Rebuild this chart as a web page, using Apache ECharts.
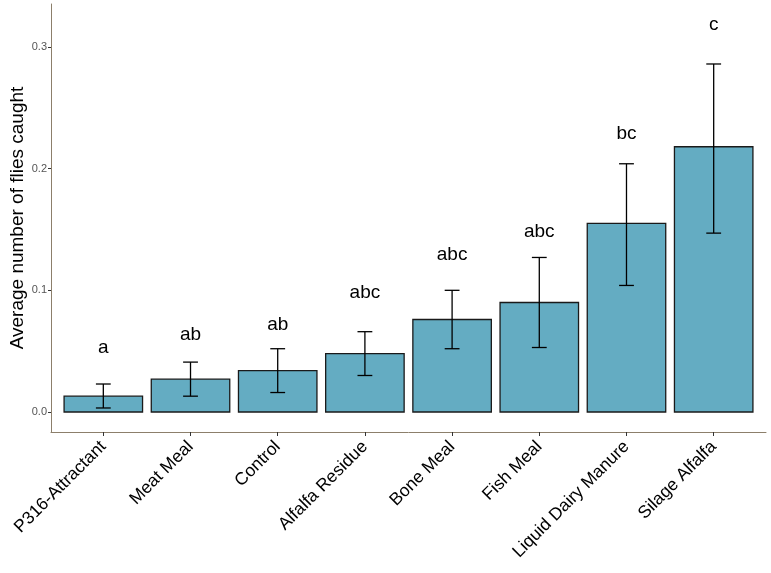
<!DOCTYPE html>
<html>
<head>
<meta charset="utf-8">
<script src="https://cdn.jsdelivr.net/npm/echarts@6/dist/echarts.min.js"></script>
<style>html,body{margin:0;padding:0;background:#fff;}#main{width:771px;height:573px;}</style>
</head>
<body>
<div id="main"></div>
<script>
const categories = ['P316-Attractant','Meat Meal','Control','Alfalfa Residue','Bone Meal','Fish Meal','Liquid Dairy Manure','Silage Alfalfa'];
const means = [0.013, 0.027, 0.034, 0.048, 0.076, 0.090, 0.155, 0.218];
const lowerCI = [0.0033, 0.013, 0.016, 0.030, 0.052, 0.053, 0.104, 0.147];
const upperCI = [0.023, 0.041, 0.052, 0.066, 0.100, 0.127, 0.204, 0.286];
const letters = ['a','ab','ab','abc','abc','abc','bc','c'];
const letterY = [0.0526, 0.0633, 0.0715, 0.0978, 0.129, 0.148, 0.229, 0.318];
const yTicks = [0, 0.1, 0.2, 0.3];

const xPos = categories.map((c, i) => i + 1);
const FONT = '"Liberation Sans", Arial, sans-serif';
const axisColor = '#8c7f6b';

const chart = echarts.init(document.getElementById('main'), null, {renderer: 'canvas'});
chart.setOption({
  backgroundColor: '#fff',
  animation: false,
  grid: {left: 51, right: 5, top: 4, bottom: 141, containLabel: false, outerBoundsMode: 'none'},
  xAxis: {
    type: 'value', min: 0.4, max: 8.6,
    splitLine: {show: false},
    axisLine: {show: true, onZero: false, lineStyle: {color: axisColor, width: 1}},
    axisTick: {show: true, customValues: xPos, length: 4, lineStyle: {color: '#333'}},
    axisLabel: {
      customValues: xPos, rotate: 45, fontSize: 17.5, color: '#000', fontFamily: FONT, margin: 12,
      formatter: v => categories[Math.round(v) - 1]
    }
  },
  yAxis: {
    type: 'value', min: -0.01644, max: 0.3353,
    splitLine: {show: false},
    axisLine: {show: true, onZero: false, lineStyle: {color: axisColor, width: 1}},
    axisTick: {show: true, customValues: yTicks, length: 3, lineStyle: {color: '#333'}},
    axisLabel: {customValues: yTicks, fontSize: 11, color: '#555', fontFamily: FONT, margin: 4,
      formatter: v => v.toFixed(1)},
    name: 'Average number of flies caught', nameLocation: 'middle', nameGap: 24, nameMoveOverlap: false,
    nameTextStyle: {fontSize: 19, color: '#000', fontFamily: FONT}
  },
  series: [
    {
      type: 'custom',
      data: xPos.map((x, i) => [x, means[i]]),
      renderItem: (params, api) => {
        const x = api.value(0), y = api.value(1);
        const p0 = api.coord([x - 0.45, y]);
        const p1 = api.coord([x + 0.45, 0]);
        return {type: 'rect', shape: {x: p0[0], y: p0[1], width: p1[0] - p0[0], height: p1[1] - p0[1]},
          style: {fill: '#64acc2', stroke: '#1a1a1a', lineWidth: 1.3}};
      }
    },
    {
      type: 'custom',
      data: xPos.map((x, i) => [x, lowerCI[i], upperCI[i]]),
      renderItem: (params, api) => {
        const x = api.value(0);
        const lo = api.coord([x, api.value(1)]);
        const hi = api.coord([x, api.value(2)]);
        const half = api.size([0.085, 0])[0];
        const st = {stroke: '#000', lineWidth: 1.3};
        return {type: 'group', children: [
          {type: 'line', shape: {x1: lo[0], y1: lo[1], x2: hi[0], y2: hi[1]}, style: st},
          {type: 'line', shape: {x1: lo[0] - half, y1: lo[1], x2: lo[0] + half, y2: lo[1]}, style: st},
          {type: 'line', shape: {x1: hi[0] - half, y1: hi[1], x2: hi[0] + half, y2: hi[1]}, style: st}
        ]};
      }
    },
    {
      type: 'custom',
      data: xPos.map((x, i) => [x, letterY[i], i]),
      renderItem: (params, api) => {
        const p = api.coord([api.value(0), api.value(1)]);
        return {type: 'text', style: {text: letters[api.value(2)], x: p[0], y: p[1], align: 'center', verticalAlign: 'middle',
          fontSize: 19, fontFamily: FONT, fill: '#000'}};
      }
    }
  ]
});
</script>
</body>
</html>
